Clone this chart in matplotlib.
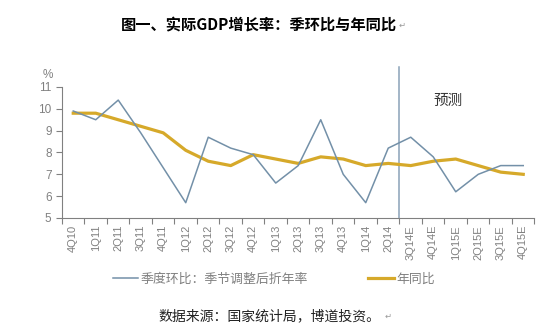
import matplotlib.pyplot as plt

plt.rcParams['font.family'] = ['Liberation Sans', 'Noto Sans CJK SC', 'DejaVu Sans']

quarters = ['4Q10', '1Q11', '2Q11', '3Q11', '4Q11', '1Q12', '2Q12', '3Q12', '4Q12',
            '1Q13', '2Q13', '3Q13', '4Q13', '1Q14', '2Q14',
            '3Q14E', '4Q14E', '1Q15E', '2Q15E', '3Q15E', '4Q15E']

# 季度环比（季节调整后折年率）
qoq_saar = [9.9, 9.5, 10.4, 8.9, 7.3, 5.7, 8.7, 8.2, 7.9,
            6.6, 7.4, 9.5, 7.0, 5.7, 8.2,
            8.7, 7.8, 6.2, 7.0, 7.4, 7.4]

# 年同比
yoy = [9.8, 9.8, 9.5, 9.2, 8.9, 8.1, 7.6, 7.4, 7.9,
       7.7, 7.5, 7.8, 7.7, 7.4, 7.5,
       7.4, 7.6, 7.7, 7.4, 7.1, 7.0]

forecast_start = 15  # first forecast quarter (3Q14E)

blue = '#7390a8'
gold = '#d6a92a'
gray = '#808080'
cjk = ['Noto Sans CJK SC', 'DejaVu Sans']

fig = plt.figure(figsize=(5.5, 3.35), dpi=100)
ax = fig.add_axes([0.1127, 0.3493, 0.8591, 0.391])

x = list(range(len(quarters)))

# forecast divider
ax.plot([forecast_start - 0.5, forecast_start - 0.5], [5, 11.9], color='#8aa2b8',
        lw=1.1, clip_on=False, zorder=1)

ax.plot(x, qoq_saar, color=blue, lw=1.1, zorder=3, label='季度环比：季节调整后折年率')
ax.plot(x, yoy, color=gold, lw=2.3, zorder=2, label='年同比')

ax.set_xlim(-0.5, len(quarters) - 0.5)
ax.set_ylim(5, 11)
ax.set_yticks(range(5, 12))

ax.set_xticks([i - 0.5 for i in range(len(quarters) + 1)])
ax.set_xticklabels([])
ax.set_xticks(x, minor=True)
ax.set_xticklabels(quarters, minor=True, rotation=90, fontsize=8, color=gray)
ax.tick_params(axis='x', which='major', length=4, color=gray, direction='out')
ax.tick_params(axis='x', which='minor', length=0, pad=5)
ax.tick_params(axis='y', length=4, color=gray, labelsize=8.5, labelcolor=gray)

for side in ['top', 'right']:
    ax.spines[side].set_visible(False)
for side in ['left', 'bottom']:
    ax.spines[side].set_color(gray)
    ax.spines[side].set_linewidth(0.8)

ax.text(-0.03, 1.07, '%', transform=ax.transAxes, fontsize=8.5, color=gray, ha='center')
ax.text(16.0, 10.35, '预测', fontsize=10.5, color='#333333', va='center', family=cjk)

leg = ax.legend(loc='upper center', bbox_to_anchor=(0.448, -0.33), ncol=2, frameon=False,
                prop={'family': cjk, 'size': 9.3},
                handlelength=2.0, handletextpad=0.2, columnspacing=4.6)
for t in leg.get_texts():
    t.set_color(gray)

fig.text(0.47, 0.925, '图一、实际GDP增长率：季环比与年同比', ha='center', va='center',
         fontsize=11, fontweight='bold', family=cjk)
fig.text(0.725, 0.922, '↵', ha='left', va='center', fontsize=6, color='#999999')
fig.text(0.49, 0.055, '数据来源：国家统计局，博道投资。', ha='center', va='center',
         fontsize=10, family=cjk, color='#222222')
fig.text(0.7, 0.052, '↵', ha='left', va='center', fontsize=6, color='#999999')

fig.savefig('out.png', dpi=100)
